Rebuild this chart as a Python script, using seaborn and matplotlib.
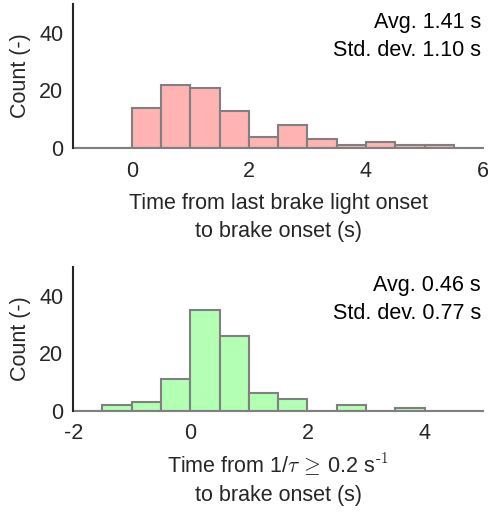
import numpy as np
import seaborn as sns
import matplotlib.pyplot as plt

# bin edges and counts
edges_top = [-1, -0.5, 0, 0.5, 1, 1.5, 2, 2.5, 3, 3.5, 4, 4.5, 5, 5.5, 6]
counts_top = [0, 0, 14, 22, 21, 13, 4, 8, 3, 1, 2, 1, 1, 0]
edges_bot = [-2, -1.5, -1, -0.5, 0, 0.5, 1, 1.5, 2, 2.5, 3, 3.5, 4, 4.5, 5]
counts_bot = [0, 2, 3, 11, 35, 26, 6, 4, 0, 2, 0, 1, 0, 0]

stats_top = ['Avg. 1.41 s', 'Std. dev. 1.10 s']
stats_bot = ['Avg. 0.46 s', 'Std. dev. 0.77 s']

sns.set_style('white')
plt.rcParams['font.family'] = ['Liberation Sans', 'DejaVu Sans']
plt.rcParams['mathtext.fontset'] = 'cm'
plt.rcParams['axes.unicode_minus'] = False
dark = '#262626'
fs = 15.5

fig = plt.figure(figsize=(4.88, 5.14), dpi=100)
ax1 = fig.add_axes([0.150, 0.712, 0.840, 0.280])
ax2 = fig.add_axes([0.150, 0.201, 0.840, 0.279])


def draw(ax, edges, counts, color, xlim, xticks, stats, xlabel, lpad):
    centers = [(a + b) / 2 for a, b in zip(edges[:-1], edges[1:])]
    sns.histplot(x=centers, weights=counts, bins=edges, ax=ax, color=color,
                 alpha=1, edgecolor='#808080', linewidth=1.5)
    ax.set_xlim(*xlim)
    ax.set_ylim(0, 50)
    ax.set_yticks([0, 20, 40])
    ax.set_xticks(xticks)
    for s in ['top', 'right']:
        ax.spines[s].set_visible(False)
    ax.spines['bottom'].set_color('#808080')
    ax.spines['bottom'].set_linewidth(1.5)
    ax.spines['left'].set_color(dark)
    ax.spines['left'].set_linewidth(1.5)
    ax.spines['left'].set_zorder(5)
    ax.tick_params(axis='y', direction='out', length=4, width=1.2,
                   colors=dark, labelsize=fs, pad=3)
    ax.tick_params(axis='x', length=0, colors=dark, labelsize=fs, pad=9)
    ax.set_ylabel('Count (-)', fontsize=fs, color=dark, labelpad=6)
    ax.set_xlabel(xlabel, fontsize=fs, color=dark, labelpad=lpad, linespacing=1.45)
    ax.text(0.995, 0.87, stats[0], transform=ax.transAxes, ha='right', va='center',
            fontsize=fs, color='black')
    ax.text(0.995, 0.68, stats[1], transform=ax.transAxes, ha='right', va='center',
            fontsize=fs, color='black')


draw(ax1, edges_top, counts_top, '#FFB3B3', (-1, 6), [0, 2, 4, 6], stats_top,
     'Time from last brake light onset\nto brake onset (s)', 8)
draw(ax2, edges_bot, counts_bot, '#B3FFB3', (-2, 5), [-2, 0, 2, 4], stats_bot,
     'Time from 1/$\\tau\\,\\geq\\,$0.2 s$^{\\text{-1}}$\nto brake onset (s)', 5)

fig.savefig('out.png', dpi=100)
